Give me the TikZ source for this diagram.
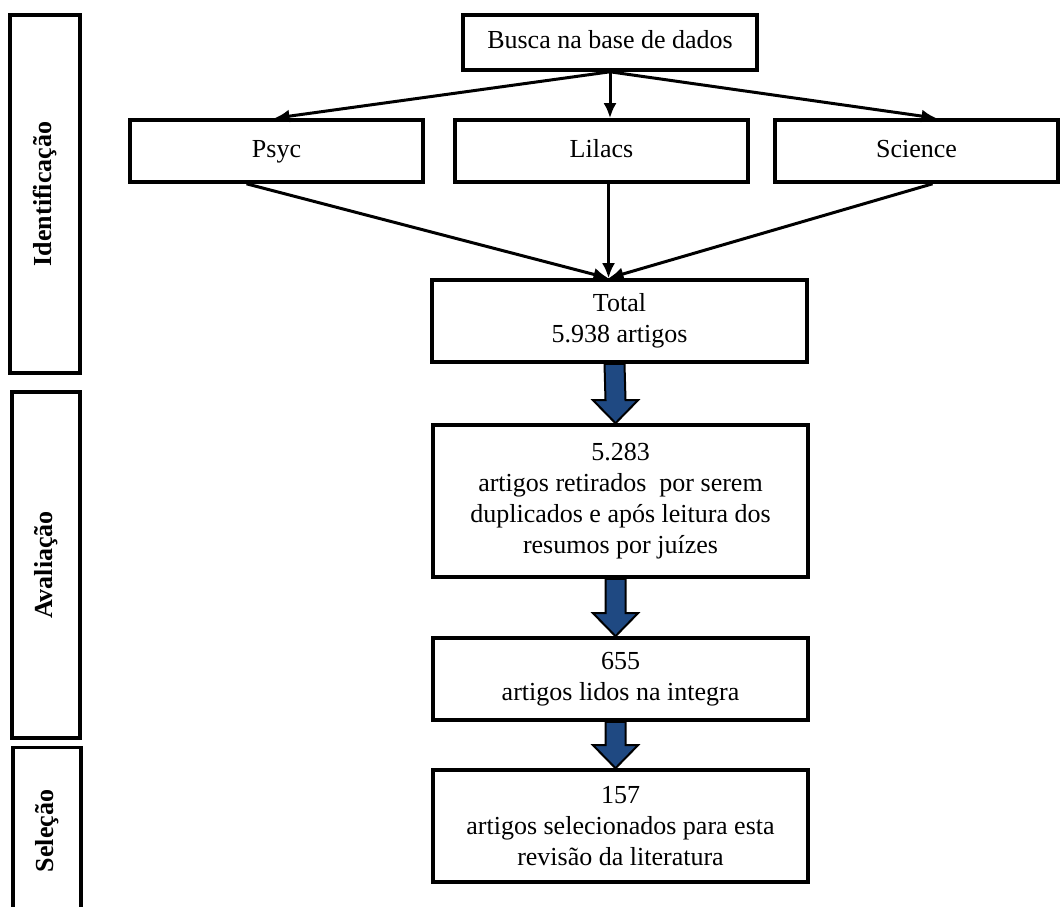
\documentclass[tikz,border=0pt]{standalone}
\usepackage{fontspec}
\setmainfont{Liberation Serif}
\usepackage{tikz}
\usetikzlibrary{arrows.meta}
\definecolor{azulseta}{RGB}{31,73,130}
\tikzset{
  caixa/.style={draw, line width=3.6pt, align=center, inner sep=0pt,
    font=\fontsize{26}{31}\selectfont},
  base/.style={caixa, text height=18pt, text depth=6pt},
  fase/.style={caixa, rotate=90, font=\fontsize{26}{31}\selectfont\bfseries},
  fio/.style={line width=3pt, -{Latex[length=15pt,width=13pt]}},
  setabloco/.style={draw=black, line width=2pt, fill=azulseta, line join=miter}
}
\newcommand{\setaazul}[2]{%
  \draw[setabloco] ([xshift=-15pt]#1.south) -- ([xshift=-15pt,yshift=23pt]#2.north)
    -- ([xshift=-27.5pt,yshift=23pt]#2.north) -- ([xshift=-5pt]#2.north)
    -- ([xshift=17.5pt,yshift=23pt]#2.north) -- ([xshift=5pt,yshift=23pt]#2.north)
    -- ([xshift=5pt]#1.south) -- cycle;}
\begin{document}
\begin{tikzpicture}[x=1pt,y=-1pt]
\useasboundingbox (0,0) rectangle (1060,907);
\clip (0,0) rectangle (1060,907);
% fases
\node[fase, minimum width=358, minimum height=70] (ident) at (45,194) {Identificação};
\node[fase, minimum width=346, minimum height=68] (aval) at (46,565) {Avaliação};
\node[fase, minimum width=167, minimum height=68] (selec) at (47,831) {Seleção};
% bases
\node[base, minimum width=294, minimum height=55] (busca) at (610,42.5) {Busca na base de dados};
\node[base, minimum width=293, minimum height=62] (psyc) at (276.5,151) {Psyc};
\node[base, minimum width=293, minimum height=62] (lilacs) at (601.5,151) {Lilacs};
\node[base, minimum width=283, minimum height=62] (sci) at (916.5,151) {Science};
% etapas
\node[caixa, minimum width=375, minimum height=82] (total) at (619.5,321) {Total\\5.938 artigos};
\node[caixa, minimum width=375, minimum height=152] (retir) at (620.5,501)
  {5.283\\artigos retirados \ por serem\\duplicados e após leitura dos\\resumos por juízes};
\node[caixa, minimum width=375, minimum height=82] (lidos) at (620.5,679) {655\\artigos lidos na integra};
\node[caixa, minimum width=375, minimum height=112] (escol) at (620.5,826)
  {157\\artigos selecionados para esta\\revisão da literatura};
% ligacoes
\coordinate (meet) at ([xshift=-11pt]total.north);
\draw[fio] (busca.south) -- ([xshift=-2pt]psyc.north);
\draw[fio] (busca.south) -- (busca.south |- lilacs.north);
\draw[fio] (busca.south) -- ([xshift=20pt]sci.north);
\draw[fio] ([xshift=-30pt]psyc.south) -- (meet);
\draw[fio] (meet |- lilacs.south) -- (meet);
\draw[fio] ([xshift=16pt]sci.south) -- (meet);
\setaazul{total}{retir}
\setaazul{retir}{lidos}
\setaazul{lidos}{escol}
\end{tikzpicture}
\end{document}
